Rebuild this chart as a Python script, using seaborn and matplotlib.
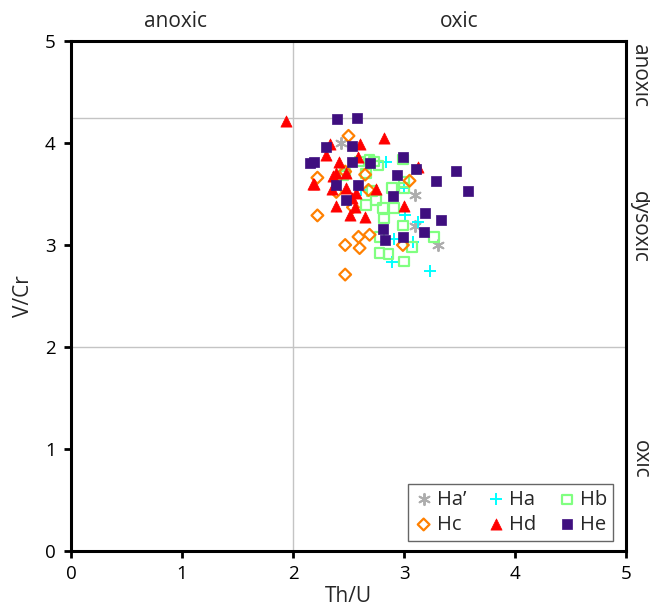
import matplotlib
matplotlib.use("Agg")
import matplotlib.pyplot as plt
import seaborn as sns
import pandas as pd

# ---- data (Th/U, V/Cr) ----
hap_x = [2.43, 3.10, 3.10, 3.31]
hap_y = [4.00, 3.49, 3.19, 3.00]

ha_x = [2.84, 2.61, 3.00, 3.01, 3.13, 2.91, 3.08, 2.89, 3.23]
ha_y = [3.81, 3.54, 3.56, 3.29, 3.23, 3.06, 3.03, 2.83, 2.75]

hb_x = [2.60, 2.69, 2.77, 2.45, 2.66, 2.99, 2.89, 3.00, 3.00, 2.71, 2.75, 2.66,
        2.81, 2.91, 2.82, 2.99, 2.78, 3.07, 3.27, 2.78, 2.86, 3.00, 2.47, 2.73]
hb_y = [3.82, 3.84, 3.78, 3.68, 3.70, 3.84, 3.56, 3.62, 3.56, 3.53, 3.44, 3.39,
        3.36, 3.36, 3.26, 3.19, 3.08, 2.98, 3.08, 2.92, 2.91, 2.84, 3.70, 3.82]

hc_x = [2.50, 2.22, 2.39, 2.65, 2.54, 2.22, 3.05, 2.59, 2.69, 2.47, 2.60, 2.99,
        2.47, 2.68, 2.47]
hc_y = [4.07, 3.66, 3.52, 3.69, 3.37, 3.29, 3.63, 3.08, 3.10, 3.00, 2.97, 3.00,
        2.71, 3.54, 3.72]

hd_x = [1.94, 2.82, 2.33, 2.60, 2.30, 2.41, 2.59, 2.39, 2.48, 2.19, 2.35, 2.48,
        2.57, 2.75, 2.53, 2.39, 2.56, 2.51, 2.65, 3.00, 3.13, 2.36, 2.18]
hd_y = [4.22, 4.05, 3.99, 3.99, 3.88, 3.81, 3.86, 3.71, 3.71, 3.60, 3.55, 3.56,
        3.51, 3.55, 3.46, 3.38, 3.37, 3.29, 3.27, 3.38, 3.76, 3.68, 3.60]

he_x = [2.40, 2.58, 2.30, 2.53, 2.19, 2.15, 2.53, 2.69, 2.99, 3.11, 3.47, 2.94,
        3.29, 3.58, 2.59, 2.39, 2.48, 2.90, 3.19, 3.33, 3.18, 2.81, 2.99, 2.83]
he_y = [4.24, 4.25, 3.96, 3.97, 3.81, 3.80, 3.81, 3.80, 3.86, 3.75, 3.73, 3.69,
        3.63, 3.53, 3.59, 3.59, 3.44, 3.48, 3.31, 3.25, 3.13, 3.16, 3.08, 3.05]

series_names = ["Ha\u2019", "Ha", "Hb", "Hc", "Hd", "He"]
series_x = [hap_x, ha_x, hb_x, hc_x, hd_x, he_x]
series_y = [hap_y, ha_y, hb_y, hc_y, hd_y, he_y]

top_labels = ["anoxic", "oxic"]
top_pos = [0.94, 3.5]
right_labels = ["anoxic", "dysoxic", "oxic"]
right_pos = [4.66, 3.18, 0.9]

colors = {"Ha\u2019": "#ADADAD", "Ha": "#00FFFF", "Hb": "#80FF80",
          "Hc": "#FF8000", "Hd": "#FF0000", "He": "#3F0F7F"}
markers = {"Ha\u2019": (6, 2, 0), "Ha": "+", "Hb": "s", "Hc": "D", "Hd": "^", "He": "s"}
filled = {"Ha\u2019": None, "Ha": None, "Hb": False, "Hc": False, "Hd": True, "He": True}
sizes = {"Ha\u2019": 65, "Ha": 85, "Hb": 48, "Hc": 36, "Hd": 65, "He": 52}

sns.set_style("white")
plt.rcParams["font.family"] = ["Open Sans", "DejaVu Sans"]

fig = plt.figure(figsize=(6.5, 6.13), dpi=100)
ax = fig.add_axes([71 / 650, 1 - 551 / 613, 555 / 650, 510 / 613])

# reference grid lines
ax.axvline(2, color="#C4C4C4", lw=1.0, zorder=0)
ax.axhline(2, color="#C4C4C4", lw=1.0, zorder=0)
ax.axhline(4.25, color="#C4C4C4", lw=1.0, zorder=0)

for name, xs, ys in zip(series_names, series_x, series_y):
    df = pd.DataFrame({"x": xs, "y": ys})
    c = colors[name]
    kw = dict(data=df, x="x", y="y", ax=ax, marker=markers[name], s=sizes[name],
              label=name, zorder=3)
    if filled[name] is None:
        sns.scatterplot(**kw, color=c, linewidth=1.4)
    elif filled[name]:
        sns.scatterplot(**kw, color=c, edgecolor=c, linewidth=0.5)
    else:
        sns.scatterplot(**kw, facecolor="none", edgecolor=c, linewidth=1.6)

ax.set_xlim(0, 5)
ax.set_ylim(0, 5)
ax.set_xticks([0, 1, 2, 3, 4, 5])
ax.set_yticks([0, 1, 2, 3, 4, 5])
ax.tick_params(axis="both", direction="out", length=5, width=2.0, labelsize=13.5,
               bottom=True, left=True, colors="black")
ax.tick_params(axis="x", pad=5)
ax.tick_params(axis="y", pad=6)
for sp in ax.spines.values():
    sp.set_color("black")
    sp.set_linewidth(2.2)
ax.set_xlabel("Th/U", fontsize=15, labelpad=2)
ax.set_ylabel("V/Cr", fontsize=15, labelpad=8)

# zone labels
for label, xv in zip(top_labels, top_pos):
    ax.text(xv, 1.018, label, transform=ax.get_xaxis_transform(), ha="center",
            va="bottom", fontsize=15)
for label, yv in zip(right_labels, right_pos):
    ax.text(1.025, yv, label, transform=ax.get_yaxis_transform(), ha="center",
            va="center", rotation=270, fontsize=15)

handles, labels = ax.get_legend_handles_labels()
order = [0, 3, 1, 4, 2, 5]
leg = ax.legend([handles[i] for i in order], [labels[i] for i in order],
                ncol=3, loc="lower right", bbox_to_anchor=(0.977, 0.02),
                fontsize=14.5, frameon=True, fancybox=False, edgecolor="#404040",
                handletextpad=0.15, columnspacing=1.0, borderpad=0.3,
                labelspacing=0.25, handlelength=1.0, borderaxespad=0)
leg.get_frame().set_linewidth(1.0)

fig.savefig("out.png", dpi=100)
